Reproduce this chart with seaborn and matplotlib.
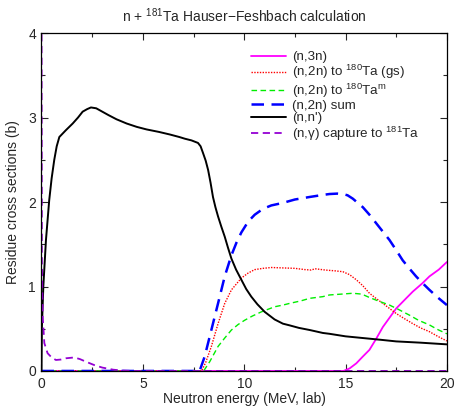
import matplotlib
matplotlib.use("Agg")
import matplotlib.pyplot as plt
import seaborn as sns
from matplotlib.ticker import MultipleLocator

# energies (MeV) and cross sections (b)
e_n3n = [0, 14.9, 15.2, 15.53, 15.85, 16.18, 16.51, 16.84, 17.17, 17.5, 17.99,
         18.32, 18.8, 19.14, 19.6, 20.0]
xs_n3n = [0, 0, 0.03, 0.09, 0.17, 0.25, 0.38, 0.52, 0.63, 0.74, 0.86,
          0.94, 1.04, 1.12, 1.20, 1.29]

e_gs = [0, 7.9, 8.1, 8.38, 8.71, 9.04, 9.37, 9.86, 10.2, 10.52, 10.93, 11.34, 11.91,
        12.5, 13.0, 13.3, 13.5, 14.0, 14.5, 14.87, 15.2, 15.53, 15.85, 16.18, 16.5,
        16.84, 17.17, 17.5, 17.9, 18.32, 18.7, 19.14, 19.55, 20.0]
xs_gs = [0, 0, 0.1, 0.29, 0.56, 0.80, 0.96, 1.10, 1.16, 1.20, 1.215, 1.225, 1.22,
         1.215, 1.20, 1.195, 1.21, 1.195, 1.185, 1.175, 1.14, 1.08, 1.01, 0.92, 0.86,
         0.80, 0.74, 0.68, 0.62, 0.56, 0.51, 0.465, 0.41, 0.355]

e_m = [0, 8.0, 8.3, 8.71, 9.04, 9.37, 9.7, 10.02, 10.4, 10.85, 11.5, 11.91, 12.24,
       12.8, 13.23, 13.88, 14.21, 14.8, 15.36, 15.8, 16.18, 16.6, 17.17, 17.6, 18.16,
       18.6, 19.14, 19.55, 20.0]
xs_m = [0, 0, 0.11, 0.29, 0.39, 0.485, 0.55, 0.60, 0.65, 0.70, 0.76, 0.78, 0.80,
        0.83, 0.86, 0.88, 0.90, 0.91, 0.92, 0.91, 0.87, 0.83, 0.78, 0.73, 0.66,
        0.60, 0.545, 0.49, 0.44]

e_sum = [0, 7.8, 8.05, 8.38, 8.71, 9.04, 9.37, 9.62, 9.86, 10.2, 10.52, 10.93, 11.34,
         11.91, 12.5, 13.23, 13.9, 14.21, 14.6, 14.87, 15.1, 15.36, 15.6, 15.85, 16.18,
         16.51, 16.84, 17.17, 17.5, 17.82, 18.16, 18.48, 18.8, 19.14, 19.55, 20.0]
xs_sum = [0, 0, 0.17, 0.485, 0.80, 1.12, 1.37, 1.52, 1.64, 1.77, 1.85, 1.92, 1.96,
          1.99, 2.03, 2.06, 2.085, 2.095, 2.10, 2.095, 2.08, 2.04, 1.99, 1.94, 1.85,
          1.75, 1.65, 1.55, 1.43, 1.31, 1.21, 1.12, 1.04, 0.96, 0.87, 0.78]

e_inel = [0, 0.02, 0.09, 0.22, 0.38, 0.5, 0.63, 0.75, 0.88, 1.2, 1.54, 1.8, 2.03,
          2.25, 2.44, 2.7, 3.0, 3.3, 3.7, 4.2, 4.7, 5.18, 5.8, 6.33, 6.8, 7.07, 7.4,
          7.72, 7.85, 7.97, 8.1, 8.22, 8.34, 8.46, 8.58, 8.71, 8.87, 9.04, 9.2, 9.37,
          9.6, 9.86, 10.1, 10.35, 10.65, 11.01, 11.5, 11.91, 12.24, 12.7, 13.23, 13.88,
          14.21, 15.0, 15.85, 16.7, 17.5, 18.7, 20.0]
xs_inel = [0, 0.52, 1.0, 1.55, 2.02, 2.28, 2.50, 2.66, 2.77, 2.85, 2.93, 3.00, 3.07,
           3.10, 3.12, 3.11, 3.07, 3.03, 2.98, 2.93, 2.89, 2.86, 2.83, 2.80, 2.77, 2.75,
           2.73, 2.70, 2.66, 2.58, 2.49, 2.38, 2.23, 2.06, 1.94, 1.83, 1.71, 1.59, 1.46,
           1.33, 1.20, 1.08, 0.97, 0.88, 0.79, 0.70, 0.61, 0.56, 0.54, 0.51, 0.485, 0.45,
           0.44, 0.41, 0.39, 0.37, 0.35, 0.335, 0.315]

e_cap = [0, 0.02, 0.06, 0.14, 0.3, 0.5, 0.71, 0.95, 1.2, 1.62, 1.9, 2.19, 2.6, 3.0,
         3.54, 4.0, 4.5, 20]
xs_cap = [4.5, 1.3, 0.64, 0.33, 0.21, 0.16, 0.13, 0.135, 0.15, 0.16, 0.14, 0.11, 0.07,
          0.04, 0.015, 0.005, 0, 0]

sns.set_style("ticks")
plt.rcParams["font.family"] = ["Liberation Sans", "DejaVu Sans"]
plt.rcParams["mathtext.default"] = "regular"
plt.rcParams["font.size"] = 9

fig = plt.figure(figsize=(4.56, 4.09), dpi=100)
ax = fig.add_axes([0.091, 0.093, 0.889, 0.826])

sns.lineplot(x=e_n3n, y=xs_n3n, color="#ff00ff", lw=1.3, ax=ax, label="(n,3n)")
sns.lineplot(x=e_gs, y=xs_gs, color="#ff0000", lw=1.0, linestyle=(0, (1, 1)), ax=ax,
             label="(n,2n) to $^{180}$Ta (gs)")
sns.lineplot(x=e_m, y=xs_m, color="#00ee00", lw=1.0, linestyle=(0, (4, 2.5)), ax=ax,
             label="(n,2n) to $^{180}$Ta$^{m}$")
sns.lineplot(x=e_sum, y=xs_sum, color="#0000ff", lw=1.8, linestyle=(0, (5, 3)), ax=ax,
             label="(n,2n) sum")
sns.lineplot(x=e_inel, y=xs_inel, color="black", lw=1.4, ax=ax, label="(n,n')")
sns.lineplot(x=e_cap, y=xs_cap, color="#9400d3", lw=1.3, linestyle=(0, (4, 2.5)), ax=ax,
             label="(n,$\\gamma$) capture to $^{181}$Ta")

ax.set_xlim(0, 20)
ax.set_ylim(0, 4)
ax.xaxis.set_major_locator(MultipleLocator(5))
ax.xaxis.set_minor_locator(MultipleLocator(2.5))
ax.yaxis.set_major_locator(MultipleLocator(1))
ax.yaxis.set_minor_locator(MultipleLocator(0.5))
ax.tick_params(which="both", direction="in", top=True, right=True, labelsize=10, pad=4)
ax.tick_params(which="major", length=5, width=0.8)
ax.tick_params(which="minor", length=3, width=0.8)
for s in ax.spines.values():
    s.set_linewidth(0.9)
    s.set_color("black")

ax.set_xlabel("Neutron energy (MeV, lab)", fontsize=10, labelpad=1)
ax.set_ylabel("Residue cross sections (b)", fontsize=10, labelpad=6)
ax.set_title("n + $^{181}$Ta Hauser\u2212Feshbach calculation", fontsize=10, pad=8)

ax.legend(loc="upper right", bbox_to_anchor=(0.955, 0.975), frameon=False, fontsize=9.6,
          handlelength=2.6, handletextpad=0.45, labelspacing=0.0, borderaxespad=0.3)

fig.savefig("out.png", dpi=100)
